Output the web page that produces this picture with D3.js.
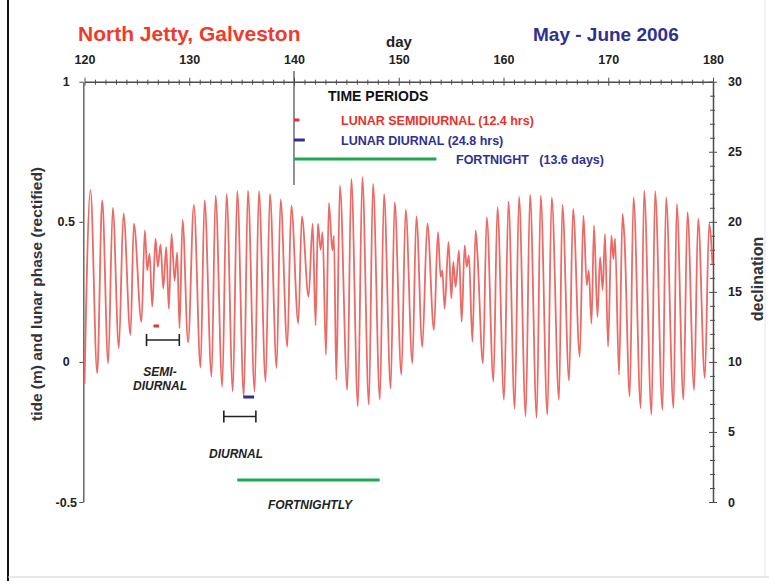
<!DOCTYPE html>
<html><head><meta charset="utf-8">
<script src="https://cdn.jsdelivr.net/npm/d3@7"></script>
<style>
body{margin:0;background:#fff}
svg{display:block}
text{font-family:"Liberation Sans",Arial,sans-serif;font-weight:bold}
</style>
</head><body>
<svg id="c" width="769" height="581"></svg>
<script>
// ---------- data ----------
const dayTicks = [120,130,140,150,160,170,180];
const tideTicks = [-0.5,0,0.5,1];
const declTicks = [0,5,10,15,20,25,30];

// tide extremes (day of year, metres)
const tideDay = [120.0,120.57,121.21,121.69,122.26,122.70,123.28,123.72,124.39,124.71,125.44,125.76,125.99,126.21,126.47,126.78,127.00,127.26,127.52,127.80,128.05,128.31,128.60,128.85,129.07,129.36,129.89,130.44,131.08,131.46,132.13,132.51,133.15,133.56,134.16,134.58,135.21,135.60,136.24,136.65,137.29,137.70,138.34,138.72,139.36,139.74,140.41,140.75,141.39,141.78,142.06,142.28,142.54,142.73,143.05,143.33,143.66,143.81,144.04,144.38,145.09,145.47,146.10,146.52,147.15,147.54,148.20,148.59,149.23,149.61,150.25,150.66,151.30,151.68,152.25,152.73,153.36,153.74,154.00,154.16,154.38,154.75,155.02,155.21,155.43,155.75,156.01,156.29,156.49,156.70,157.03,157.34,157.51,158.04,158.40,159.04,159.42,160.05,160.47,161.07,161.48,162.12,162.53,163.17,163.55,164.19,164.60,165.30,165.62,166.26,166.64,167.28,167.63,167.95,168.14,168.40,168.64,168.97,169.22,169.47,169.69,169.98,170.30,170.49,170.65,171.03,171.36,171.55,172.05,172.41,173.10,173.42,174.13,174.47,175.18,175.52,176.23,176.54,177.18,177.56,178.20,178.58,179.22,179.63,179.95];
const tideLevel = [-0.08,0.614,-0.04,0.576,-0.005,0.55,0.049,0.53,0.096,0.493,0.143,0.469,0.327,0.386,0.197,0.44,0.339,0.419,0.262,0.41,0.19,0.457,0.29,0.39,0.12,0.507,0.07,0.56,-0.02,0.576,-0.052,0.593,-0.088,0.60,-0.105,0.609,-0.123,0.611,-0.105,0.609,-0.07,0.60,-0.022,0.58,0.054,0.558,0.137,0.519,0.233,0.493,0.13,0.493,0.40,0.463,0.025,0.567,0.398,0.45,-0.064,0.629,-0.1,0.653,-0.159,0.659,-0.153,0.635,-0.135,0.60,-0.094,0.57,-0.046,0.543,-0.005,0.519,0.054,0.493,0.114,0.463,0.303,0.327,0.19,0.428,0.227,0.357,0.268,0.398,0.143,0.416,0.339,0.38,0.072,0.469,0.386,-0.005,0.516,-0.07,0.552,-0.135,0.573,-0.168,0.59,-0.194,0.597,-0.2,0.593,-0.188,0.587,-0.135,0.56,-0.067,0.546,0.019,0.522,0.274,0.327,0.137,0.487,0.161,0.374,0.256,0.457,0.054,0.451,0.368,0.44,-0.046,0.528,0.44,-0.123,0.587,-0.165,0.611,-0.188,0.609,-0.171,0.587,-0.165,0.564,-0.135,0.534,-0.1,0.511,-0.058,0.493,0.35];

// legend of time periods (length in days)
const periodNames = ["LUNAR SEMIDIURNAL (12.4 hrs)","LUNAR DIURNAL (24.8 hrs)","FORTNIGHT   (13.6 days)"];
const periodDays = [12.4/24, 24.8/24, 13.6];
const periodColors = ["#e8312a","#2e3192","#1fa84f"];
const periodTextColors = ["#e8312a","#2e3192","#2e3192"];

// ---------- drawing ----------
const svg = d3.select("#c");
const x = d3.scaleLinear().domain([120,180]).range([84.5,713]);
const yL = d3.scaleLinear().domain([-0.5,1]).range([502,81.7]);
const yR = d3.scaleLinear().domain([0,30]).range([502,81.7]);
const axisCol = "#4d4d4d";
const tickFont = sel => sel.attr("fill","#222").style("font-size","12.5px")
  .style("font-family","Liberation Sans, Arial, sans-serif").style("font-weight","bold");

// page frame
svg.append("line").attr("x1",8).attr("x2",8).attr("y1",0).attr("y2",581).attr("stroke","#111").attr("stroke-width",2);
svg.append("line").attr("x1",8).attr("x2",769).attr("y1",577).attr("y2",577).attr("stroke","#d0d0d0").attr("stroke-width",1);
svg.append("line").attr("x1",765).attr("x2",765).attr("y1",0).attr("y2",577).attr("stroke","#e6e6e6").attr("stroke-width",1);

// titles
svg.append("text").attr("x",78).attr("y",41).attr("fill","#ef3b2c").style("font-size","21px").text("North Jetty, Galveston");
svg.append("text").attr("x",533).attr("y",41).attr("fill","#2e3192").style("font-size","19px").text("May - June 2006");
svg.append("text").attr("x",399).attr("y",47).attr("text-anchor","middle").attr("fill","#222").style("font-size","15px").text("day");

// top axis
const topAx = svg.append("g").attr("transform",`translate(0,${yL(1)})`)
  .call(d3.axisTop(x).tickValues(d3.range(120,181,1)).tickSize(3).tickPadding(15).tickSizeOuter(0)
    .tickFormat(d => dayTicks.includes(d) ? d : ""));
topAx.select(".domain").attr("stroke",axisCol).attr("stroke-width",1.5);
topAx.selectAll(".tick line").attr("stroke",axisCol).attr("y1",d=>d%10===0?4:3).attr("y2",d=>d%10===0?-4:-2);
topAx.selectAll(".tick text").call(tickFont);

// left axis
const leftAx = svg.append("g").attr("transform","translate(83.3,0)")
  .call(d3.axisLeft(yL).tickValues(tideTicks).tickSize(4).tickPadding(5).tickSizeOuter(0)
    .tickFormat(d => d===0 ? "0" : String(d)));
leftAx.select(".domain").attr("stroke","#666").attr("stroke-width",1.5);
leftAx.selectAll(".tick line").attr("stroke",axisCol);
leftAx.selectAll(".tick text").call(tickFont).attr("text-anchor","middle").attr("x",-17);

// right axis
const rightAx = svg.append("g").attr("transform","translate(713,0)")
  .call(d3.axisRight(yR).tickValues(d3.range(0,31,1)).tickSize(3).tickPadding(12).tickSizeOuter(0)
    .tickFormat(d => declTicks.includes(d) ? d : ""));
rightAx.select(".domain").attr("stroke",axisCol).attr("stroke-width",1.5);
rightAx.selectAll(".tick line").attr("stroke",axisCol).attr("x1",d=>d%5===0?-4:-3).attr("x2",d=>d%5===0?4:2);
rightAx.selectAll(".tick text").call(tickFont);

// axis titles
svg.append("text").attr("transform","translate(42,294) rotate(-90)").attr("text-anchor","middle").attr("fill","#333").style("font-size","15.5px").text("tide (m) and lunar phase (rectified)");
svg.append("text").attr("transform","translate(763,279) rotate(-90)").attr("text-anchor","middle").attr("fill","#333").style("font-size","16px").text("declination");

// tide curve
const pts = tideDay.map((d,i)=>[d,tideLevel[i]]);
svg.append("path").datum(pts)
  .attr("fill","none").attr("stroke","#ea6a66").attr("stroke-width",1.8).attr("stroke-linejoin","round")
  .attr("d", d3.line().x(d=>x(d[0])).y(d=>yL(d[1])).curve(d3.curveMonotoneX));

// day-140 marker line
svg.append("line").attr("x1",x(140)).attr("x2",x(140)).attr("y1",71).attr("y2",185).attr("stroke","#555").attr("stroke-width",1.3);

// legend
svg.append("text").attr("x",328).attr("y",101).attr("fill","#111").style("font-size","14px").text("TIME PERIODS");
const legY = [120,140,159];
const legTextX = [341,341,456];
periodNames.forEach((n,i)=>{
  svg.append("line").attr("x1",x(140)).attr("x2",x(140+periodDays[i])).attr("y1",legY[i]).attr("y2",legY[i])
    .attr("stroke",periodColors[i]).attr("stroke-width",3);
  svg.append("text").attr("x",legTextX[i]).attr("y",legY[i]+4.5).attr("fill",periodTextColors[i])
    .style("font-size","12.5px").style("white-space","pre").text(n);
});

// annotations
function bracket(d0,d1,yy){
  const g = svg.append("g").attr("stroke","#222").attr("stroke-width",1.6);
  g.append("line").attr("x1",x(d0)).attr("x2",x(d1)).attr("y1",yy).attr("y2",yy);
  g.append("line").attr("x1",x(d0)).attr("x2",x(d0)).attr("y1",yy-6).attr("y2",yy+6);
  g.append("line").attr("x1",x(d1)).attr("x2",x(d1)).attr("y1",yy-6).attr("y2",yy+6);
}
svg.append("line").attr("x1",x(126.59)).attr("x2",x(126.59+periodDays[0])).attr("y1",326).attr("y2",326).attr("stroke",periodColors[0]).attr("stroke-width",3);
bracket(125.92,129.05,340);
svg.append("line").attr("x1",x(135.16)).attr("x2",x(135.16+periodDays[1])).attr("y1",397).attr("y2",397).attr("stroke",periodColors[1]).attr("stroke-width",3);
bracket(133.30,136.36,416.5);
svg.append("line").attr("x1",x(134.58)).attr("x2",x(134.58+periodDays[2])).attr("y1",480).attr("y2",480).attr("stroke",periodColors[2]).attr("stroke-width",3);

const annot = svg.append("g").attr("fill","#222").style("font-size","12px").style("font-style","italic").attr("text-anchor","middle");
annot.append("text").attr("x",160).attr("y",375.5).text("SEMI-");
annot.append("text").attr("x",160).attr("y",390).text("DIURNAL");
annot.append("text").attr("x",236).attr("y",457.5).text("DIURNAL");
annot.append("text").attr("x",310).attr("y",508.5).text("FORTNIGHTLY");
</script>
</body></html>
